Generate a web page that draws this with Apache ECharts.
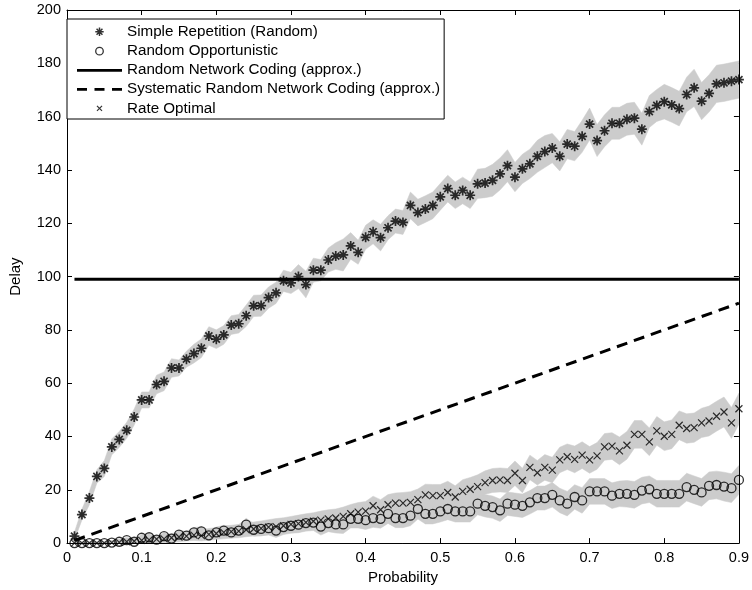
<!DOCTYPE html>
<html>
<head>
<meta charset="utf-8">
<script src="https://cdn.jsdelivr.net/npm/echarts@6/dist/echarts.min.js"></script>
<style>html,body{margin:0;padding:0;background:#fff}#chart{width:752px;height:590px}</style>
</head>
<body>
<div id="chart"></div>
<script>
// ---- data ----
const probs = [0.01,0.02,0.03,0.04,0.05,0.06,0.07,0.08,0.09,0.10,
0.11,0.12,0.13,0.14,0.15,0.16,0.17,0.18,0.19,0.20,
0.21,0.22,0.23,0.24,0.25,0.26,0.27,0.28,0.29,0.30,
0.31,0.32,0.33,0.34,0.35,0.36,0.37,0.38,0.39,0.40,
0.41,0.42,0.43,0.44,0.45,0.46,0.47,0.48,0.49,0.50,
0.51,0.52,0.53,0.54,0.55,0.56,0.57,0.58,0.59,0.60,
0.61,0.62,0.63,0.64,0.65,0.66,0.67,0.68,0.69,0.70,
0.71,0.72,0.73,0.74,0.75,0.76,0.77,0.78,0.79,0.80,
0.81,0.82,0.83,0.84,0.85,0.86,0.87,0.88,0.89,0.90];

const simpleRep = [2.6,10.7,16.9,25.0,28.0,36.1,38.9,42.3,47.3,53.7,
53.7,59.5,60.7,65.7,65.7,69.0,71.1,73.1,77.7,76.5,
78.1,81.8,82.3,85.3,89.0,89.1,92.1,93.9,98.4,97.6,
100.0,97.0,102.4,102.4,106.2,107.7,108.1,111.5,109.1,114.7,
116.8,114.6,118.3,120.8,120.3,126.7,124.0,125.3,126.7,129.9,
133.0,130.5,132.3,130.5,134.8,135.1,136.1,138.5,141.6,137.3,
140.4,142.3,145.1,146.9,148.2,145.1,149.7,148.9,152.6,157.2,
151.0,154.7,157.5,157.5,159.0,159.4,155.3,161.9,164.2,165.6,
164.4,163.0,168.3,170.8,165.8,168.7,172.3,172.7,173.3,173.9];
const simpleRepHW = [1.5,2,2.5,2.5,3,3,3,3,3,3,
3,3.5,3.5,3.5,3,3,3.5,3.5,3.5,3.5,
3.5,3.5,3.5,4,4,4,4,4,4,4,
4.5,5,4.5,4,4.5,5,6,5,4.5,4.5,
4.5,5,4.5,4.5,4.5,5,5,5,5,5,
5,5,5,5,5.5,5.5,6,6,6,5.5,
5.5,5.5,6,6,5.5,5.5,5.5,5.5,6,6,
6,6,6,6,6,6,6,6,6,6.5,
6.5,6.5,6.5,7,7,7,7,7,7,7];

const randomOpp = [0,0,0,0,0,0.2,0.5,1.1,0.5,2.0,
2.2,1.3,2.6,1.7,3.2,2.8,4.0,4.4,2.9,4.0,
4.7,4.0,4.7,6.9,5.0,5.3,5.6,4.7,6.0,6.5,
6.9,7.5,7.7,6.2,7.5,7.0,7.0,9.1,9.1,8.6,
9.4,9.1,11.0,9.4,9.4,10.3,12.8,11.0,11.0,11.9,
12.8,11.9,11.9,11.9,14.8,14.0,13.5,12.3,14.8,14.4,
14.0,15.3,16.9,16.9,18.1,16.0,14.8,17.3,16.0,19.4,
19.4,19.4,17.8,18.5,18.5,18.1,19.7,20.2,18.5,18.5,
18.5,18.5,21.0,20.0,19.0,21.5,21.8,21.2,20.6,23.7];
const randomOppHW = [0.5,0.5,0.5,0.5,0.7,0.8,1,1,1,1.2,
1.2,1.3,1.3,1.5,1.5,1.6,1.8,1.8,2,2,
2,2.2,2.2,2.4,2.4,2.5,2.6,2.6,2.8,2.8,
3,3,3,3.2,3.2,3.2,3.4,3.4,3.4,3.5,
3.5,3.5,3.6,3.6,3.6,3.8,3.8,3.8,3.8,4,
4,4,4,4,4.2,4.2,4.2,4.2,4.4,4.4,
4.4,4.4,4.5,4.5,4.6,4.6,4.6,4.6,4.8,4.8,
4.8,4.8,4.8,4.8,5,5,5,5,5,5,
5,5,5.2,5.2,5.2,5.2,5.2,5.4,5.4,5.4];

const rateOpt = [0,0,0,0,0,0.2,0.3,0.5,0.7,1.0,
1.2,1.5,1.6,2.0,2.3,2.6,3.0,2.8,3.3,3.6,
4.0,4.3,4.5,5.0,5.3,5.5,6.0,6.2,6.5,7.0,
7.3,7.8,8.2,8.6,9.1,9.4,10.0,11.0,11.6,12.0,
14.0,12.5,14.4,15.0,15.0,15.3,16.3,18.1,17.8,17.8,
19.0,17.3,19.4,20.2,21.2,22.7,23.5,23.7,23.5,26.2,
23.5,28.4,26.4,28.4,27.4,31.2,32.4,31.4,33.0,31.2,
32.7,36.1,36.4,34.6,36.7,40.8,40.8,38.0,42.1,40.1,
40.8,44.2,43.0,43.3,45.1,45.8,47.6,49.2,45.1,50.4];
const rateOptHW = [0.5,0.5,0.5,0.5,0.6,0.7,0.8,1,1,1.2,
1.3,1.4,1.5,1.6,1.8,1.8,2,2,2.2,2.2,
2.4,2.4,2.5,2.6,2.6,2.8,2.8,3,3,3,
3.2,3.2,3.2,3.4,3.4,3.4,3.5,3.5,3.6,3.6,
3.6,3.8,3.8,3.8,4,4,4,4,4.2,4.2,
4.2,4.2,4.4,4.4,4.4,4.4,4.5,4.5,4.5,4.6,
4.6,4.6,4.6,4.8,4.8,4.8,4.8,5,5,5,
5,5,5,5.2,5.2,5.2,5.2,5.2,5.4,5.4,
5.4,5.4,5.5,5.5,5.5,5.6,5.6,5.6,5.8,5.8];

const rncX = [0.01, 0.90];
const rncY = [99, 99];
const srncX = [0.01, 0.90];
const srncY = [1, 90];

const xTicks = [0,0.1,0.2,0.3,0.4,0.5,0.6,0.7,0.8,0.9];
const yTicks = [0,20,40,60,80,100,120,140,160,180,200];

const names = ['Simple Repetition (Random)','Random Opportunistic','Random Network Coding (approx.)','Systematic Random Network Coding (approx.)','Rate Optimal'];

// ---- build ----
const FONT = 'Liberation Sans';
const BAND = '#cccccc';
const STAR = 'path://M0,-10L0,10M-10,0L10,0M-7.07,-7.07L7.07,7.07M-7.07,7.07L7.07,-7.07';
const CROSS = 'path://M-1,-1L1,1M-1,1L1,-1';

function pairs(xs, ys){ return xs.map((x,i)=>[x, ys[i]]); }

// band: one polygon per series, every vertex mapped through the axes with api.coord
function bandSeries(id, vals, hw){
  const lo = vals.map((v,i)=>Math.max(0, v - hw[i]));
  const hi = vals.map((v,i)=>v + hw[i]);
  const rows = probs.map((x,i)=>[x, lo[i], hi[i]]);
  return {
    name:'_band'+id, type:'custom', silent:true, z:1, clip:true,
    data:[[probs[0], vals[0]]],
    renderItem:function(params, api){
      const pts = [];
      for (let i=0;i<rows.length;i++) pts.push(api.coord([rows[i][0], rows[i][2]]));
      for (let i=rows.length-1;i>=0;i--) pts.push(api.coord([rows[i][0], rows[i][1]]));
      return {type:'polygon', shape:{points:pts},
              style:{fill:BAND, stroke:BAND, lineWidth:0.5}};
    }
  };
}

const chart = echarts.init(document.getElementById('chart'), null, {renderer:'canvas'});
const axisCommon = {
  axisLine:{show:true, onZero:false, lineStyle:{color:'#000', width:1}},
  axisTick:{show:true, inside:true, length:5, lineStyle:{color:'#000', width:1}},
  splitLine:{show:false}
};
const option = {
  animation:false,
  backgroundColor:'#fff',
  textStyle:{fontFamily:FONT, color:'#000'},
  grid:{left:61, right:10, top:10, bottom:42, containLabel:false},
  legend:{
    orient:'vertical', left:67, top:19,
    padding:[5,4,3,10],
    itemWidth:45, itemHeight:14, itemGap:4,
    borderColor:'#000', borderWidth:1, backgroundColor:'#fff',
    textStyle:{fontFamily:FONT, fontSize:15.2, color:'#000'},
    selectedMode:false,
    data:[
      {name:names[0], icon:'path://M-10,-10M10,10M0,-6L0,6M-6,0L6,0M-4.2,-4.2L4.2,4.2M-4.2,4.2L4.2,-4.2',
       itemStyle:{color:'transparent', borderColor:'#000', borderWidth:1.5}},
      {name:names[1], icon:'path://M-10,-10M10,10M0,-5.4A5.4,5.4,0,1,1,0,5.4A5.4,5.4,0,1,1,0,-5.4Z',
       itemStyle:{color:'transparent', borderColor:'#000', borderWidth:1.3}},
      {name:names[2], icon:'path://M0,-7M45,7M0,-1.4L45,-1.4L45,1.4L0,1.4Z',
       itemStyle:{color:'#000', borderWidth:0}},
      {name:names[3], icon:'path://M0,-7M45,7M0,-1.4L10,-1.4L10,1.4L0,1.4ZM17.5,-1.4L27.5,-1.4L27.5,1.4L17.5,1.4ZM35,-1.4L45,-1.4L45,1.4L35,1.4Z',
       itemStyle:{color:'#000', borderWidth:0}},
      {name:names[4], icon:'path://M-10,-10M10,10M-3.6,-3.6L3.6,3.6M-3.6,3.6L3.6,-3.6',
       itemStyle:{color:'transparent', borderColor:'#000', borderWidth:1.2}}
    ]
  },
  xAxis:[
    Object.assign({type:'value', min:xTicks[0], max:xTicks[xTicks.length-1], interval:0.1, position:'bottom',
      name:'Probability', nameLocation:'middle', nameGap:24,
      nameTextStyle:{fontFamily:FONT, fontSize:15, color:'#000'},
      axisLabel:{fontFamily:FONT, fontSize:14.5, color:'#000', margin:7,
        formatter:(v)=> v===0 ? '0' : (Math.round(v*10)/10).toFixed(1)}}, axisCommon),
    Object.assign({type:'value', min:0, max:0.9, interval:0.1, position:'top',
      axisLabel:{show:false}}, axisCommon)
  ],
  yAxis:[
    Object.assign({type:'value', min:yTicks[0], max:yTicks[yTicks.length-1], interval:20, position:'left',
      name:'Delay', nameLocation:'middle', nameGap:44,
      nameTextStyle:{fontFamily:FONT, fontSize:15, color:'#000'},
      axisLabel:{fontFamily:FONT, fontSize:14.5, color:'#000', margin:6}}, axisCommon),
    Object.assign({type:'value', min:0, max:200, interval:20, position:'right',
      axisLabel:{show:false}}, axisCommon)
  ],
  series:[
    bandSeries('A', simpleRep, simpleRepHW),
    bandSeries('B', randomOpp, randomOppHW),
    bandSeries('C', rateOpt, rateOptHW),
    {name:names[2], type:'line', data:pairs(rncX, rncY), symbol:'none', z:3,
     lineStyle:{color:'#000', width:3}, itemStyle:{color:'#000'}},
    {name:names[3], type:'line', data:pairs(srncX, srncY), symbol:'none', z:3,
     lineStyle:{color:'#000', width:3, type:[11,7]}, itemStyle:{color:'#000'}},
    {name:names[0], type:'scatter', data:pairs(probs, simpleRep), symbol:STAR, symbolSize:10, z:4,
     itemStyle:{color:'transparent', borderColor:'#000', borderWidth:1.7}},
    {name:names[1], type:'scatter', data:pairs(probs, randomOpp), symbol:'circle', symbolSize:9, z:4,
     itemStyle:{color:'transparent', borderColor:'#000', borderWidth:1.3}},
    {name:names[4], type:'scatter', data:pairs(probs, rateOpt), symbol:CROSS, symbolSize:7, z:4,
     itemStyle:{color:'transparent', borderColor:'#000', borderWidth:1.2}}
  ]
};
chart.setOption(option);
</script>
</body>
</html>
